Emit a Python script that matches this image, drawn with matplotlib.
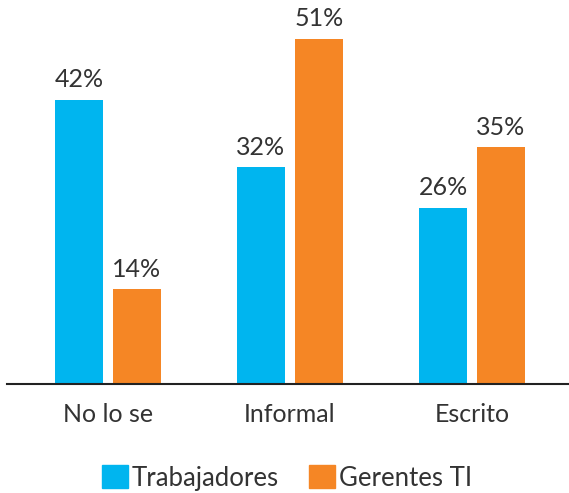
import matplotlib
matplotlib.use("Agg")
import matplotlib.pyplot as plt
import numpy as np
from matplotlib.patches import Patch

categories = ["No lo se", "Informal", "Escrito"]
trabajadores = [42, 32, 26]
gerentes = [14, 51, 35]
series_names = ["Trabajadores", "Gerentes TI"]
colors = ["#00B5EF", "#F58625"]

plt.rcParams['font.family'] = ['Lato', 'DejaVu Sans']
txt = "#333333"

fig = plt.figure(figsize=(5.69, 4.93), dpi=100)
ax = fig.add_axes([7/569, 109.5/493, 562/569, 378.6/493])

x = np.arange(len(categories))
w = 0.2637
off = 0.1593
b1 = ax.bar(x - off, trabajadores, w, color=colors[0])
b2 = ax.bar(x + off, gerentes, w, color=colors[1])

for bars, vals in ((b1, trabajadores), (b2, gerentes)):
    for r, v in zip(bars, vals):
        ax.annotate(f"{v}%", (r.get_x() + r.get_width() / 2, v),
                    xytext=(0, 6), textcoords="offset points",
                    ha="center", va="bottom", fontsize=18, color=txt)

ax.set_xlim(-0.555, 2.533)
ax.set_ylim(0, 56)
ax.set_xticks(x)
ax.set_xticklabels(categories, fontsize=18, color=txt)
ax.tick_params(axis='x', length=0, pad=14)
ax.set_yticks([])
for s in ("top", "right", "left"):
    ax.spines[s].set_visible(False)
ax.spines["bottom"].set_color("#222222")
ax.spines["bottom"].set_linewidth(1.5)

handles = [Patch(color=c, label=n) for c, n in zip(colors, series_names)]
fig.legend(handles=handles, loc="center", bbox_to_anchor=(287/569, 1 - 478/493),
           ncol=2, frameon=False, fontsize=18.5, handlelength=1.0, handleheight=1.0,
           handletextpad=0.15, columnspacing=1.2, labelcolor=txt)

fig.savefig("out.png", dpi=100)
